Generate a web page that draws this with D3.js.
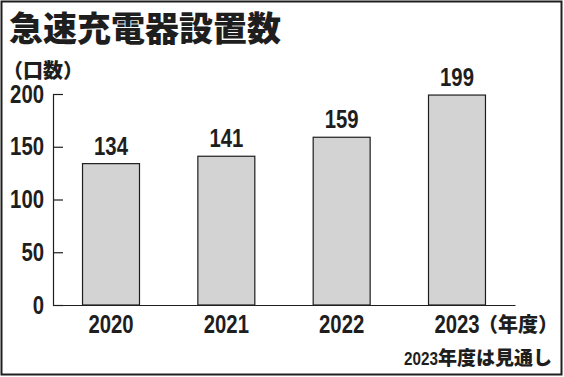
<!DOCTYPE html>
<html>
<head>
<meta charset="utf-8">
<script src="https://cdn.jsdelivr.net/npm/d3@7"></script>
<style>
  body { margin: 0; background: #fff; }
  svg { display: block; }
  .num { font-family: "Liberation Sans", Arial, sans-serif; font-weight: bold; fill: #1e1e1e; }
  .jp { font-family: "Noto Sans CJK JP", sans-serif; font-weight: 900; fill: #1e1e1e; }
</style>
</head>
<body>
<svg id="chart" width="564" height="377"></svg>
<script>
const years = ["2020", "2021", "2022", "2023"];
const counts = [134, 141, 159, 199];
const yTicks = [0, 50, 100, 150, 200];
const title = "急速充電器設置数";
const unitLabel = "（口数）";
const xUnit = "（年度）";
const noteYear = "2023";
const noteText = "年度は見通し";

const svg = d3.select("#chart");
const ink = "#1e1e1e";
const digitW = 11.3; // condensed digit width

// squeeze digits like the condensed newspaper face
function narrow(sel, w) {
  sel.attr("textLength", function() { return this.textContent.length * w; })
    .attr("lengthAdjust", "spacingAndGlyphs");
}

// frame
svg.append("rect")
  .attr("x", 1.5).attr("y", 1.5)
  .attr("width", 560).attr("height", 373)
  .attr("fill", "none").attr("stroke", ink).attr("stroke-width", 2);

const x = d3.scaleBand().domain(years).range([53, 515])
  .paddingInner(0.506).paddingOuter(0.256);
const y = d3.scaleLinear().domain([0, 200]).range([305, 94]);

// title and unit
svg.append("text").attr("class", "jp")
  .attr("x", 9).attr("y", 41)
  .style("font-size", "34px")
  .text(title);
svg.append("text").attr("class", "jp")
  .attr("x", 3).attr("y", 78)
  .style("font-size", "20px")
  .text(unitLabel);

// bars
svg.append("g").selectAll("rect")
  .data(years)
  .join("rect")
  .attr("x", d => x(d))
  .attr("y", (d, i) => y(counts[i]))
  .attr("width", x.bandwidth())
  .attr("height", (d, i) => y(0) - y(counts[i]))
  .attr("fill", "#d3d3d3")
  .attr("stroke", ink)
  .attr("stroke-width", 1.2);

// value labels
svg.append("g").selectAll("text")
  .data(years)
  .join("text")
  .attr("class", "num")
  .attr("x", d => x(d) + x.bandwidth() / 2)
  .attr("y", (d, i) => y(counts[i]) - 9)
  .attr("text-anchor", "middle")
  .style("font-size", "25px")
  .text((d, i) => counts[i])
  .call(narrow, digitW);

// y axis, ticks pointing inward
const yAxis = svg.append("g")
  .attr("transform", "translate(53,0)")
  .call(d3.axisLeft(y).tickValues(yTicks).tickSize(-10).tickSizeOuter(0).tickPadding(9));
yAxis.selectAll("line, path").attr("stroke", ink).attr("stroke-width", 1.2);
yAxis.selectAll("text").attr("class", "num").attr("fill", null)
  .style("font-size", "25px").call(narrow, digitW);
yAxis.attr("font-family", null).attr("font-size", null);

// x axis
const xAxis = svg.append("g")
  .attr("transform", "translate(0,305)")
  .call(d3.axisBottom(x).tickSize(0).tickSizeOuter(0).tickPadding(10));
xAxis.selectAll("path").attr("stroke", ink).attr("stroke-width", 1.2);
xAxis.selectAll("text").attr("class", "num").attr("fill", null)
  .style("font-size", "25px").call(narrow, digitW);
xAxis.attr("font-family", null).attr("font-size", null);

svg.append("text").attr("class", "jp")
  .attr("x", 478).attr("y", 332)
  .style("font-size", "20px")
  .text(xUnit);

// footnote
const foot = svg.append("text").attr("class", "jp")
  .attr("x", 552).attr("y", 365)
  .attr("text-anchor", "end")
  .style("font-size", "19px");
foot.append("tspan").attr("class", "num")
  .attr("textLength", 34).attr("lengthAdjust", "spacingAndGlyphs")
  .text(noteYear);
foot.append("tspan").text(noteText);
</script>
</body>
</html>
